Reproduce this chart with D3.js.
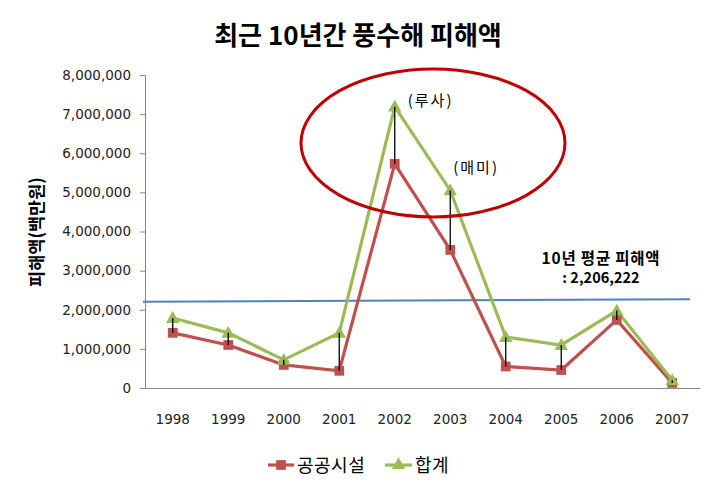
<!DOCTYPE html>
<html><head><meta charset="utf-8">
<script src="https://cdn.jsdelivr.net/npm/d3@7"></script>
<style>body{margin:0;background:#fff}svg{display:block}</style>
</head><body>
<svg id="c" width="715" height="489"></svg>
<script>
const years = ["1998","1999","2000","2001","2002","2003","2004","2005","2006","2007"];
const publicFacilities = [1410000,1100000,590000,440000,5730000,3530000,550000,460000,1740000,130000];
const totals = [1790000,1410000,720000,1410000,7190000,5050000,1300000,1100000,1980000,200000];
const yTicks = [0,1000000,2000000,3000000,4000000,5000000,6000000,7000000,8000000];
const average = 2206222;
const seriesNames = ["공공시설","합계"];
const titleText = "최근 10년간 풍수해 피해액";
const yLabel = "피해액(백만원)";
const notes = [{year:"2002", text:"(루사)"},{year:"2003", text:"(매미)"}];

const svg = d3.select("#c");
const KR = "'Noto Sans CJK KR','Noto Sans',sans-serif";
const NUM = "'DejaVu Sans',sans-serif";
const m = {l:145, r:700, t:75, b:388};
const x = d3.scaleBand().domain(years).range([m.l, m.r]);
const y = d3.scaleLinear().domain([0,8000000]).range([m.b, m.t]);
const cx = d => x(d) + x.bandwidth()/2;
const RED="#C0504D", GREEN="#9BBB59", BLUE="#4F81BD";

// title
svg.append("text").attr("x",358).attr("y",45).attr("text-anchor","middle")
  .style("font-family",KR).style("font-weight","bold").style("font-size","26px").text(titleText);

// y axis
const ya = svg.append("g").attr("transform",`translate(${m.l},0)`)
  .call(d3.axisLeft(y).tickValues(yTicks).tickFormat(d3.format(",")).tickSize(5).tickSizeOuter(0));
ya.select(".domain").attr("stroke","#868686");
ya.selectAll(".tick line").attr("stroke","#868686");
ya.selectAll(".tick text").attr("x",-14).style("font-family",NUM)
  .style("font-size","13.5px").attr("fill","#222");

// x axis
const xa = svg.append("g").attr("transform",`translate(0,${m.b})`)
  .call(d3.axisBottom(x).tickSize(0).tickSizeOuter(0));
xa.select(".domain").attr("stroke","#868686");
xa.selectAll(".tick text").attr("dy","2.45em").style("font-family",NUM)
  .style("font-size","13.5px").attr("fill","#222");

// y label
svg.append("text").attr("transform","translate(43,232) rotate(-90)").attr("text-anchor","middle")
  .style("font-family",KR).style("font-weight","bold").style("font-size","17.5px").text(yLabel);

// average line
svg.append("line").attr("x1",m.l-2).attr("x2",690).attr("y1",y(average)).attr("y2",y(average)-2.5)
  .attr("stroke",BLUE).attr("stroke-width",2);

const line = d3.line().x((d,i)=>cx(years[i])).y(d=>y(d));
svg.append("path").datum(publicFacilities).attr("d",line).attr("fill","none").attr("stroke",RED).attr("stroke-width",3.2);
svg.append("path").datum(totals).attr("d",line).attr("fill","none").attr("stroke",GREEN).attr("stroke-width",3.2);

const sq = d3.symbol().type(d3.symbolSquare).size(95);
const tri = d3.symbol().type(d3.symbolTriangle).size(80);
svg.append("g").selectAll("path").data(publicFacilities).join("path")
  .attr("transform",(d,i)=>`translate(${cx(years[i])},${y(d)})`).attr("d",sq).attr("fill",RED);
svg.append("g").selectAll("path").data(totals).join("path")
  .attr("transform",(d,i)=>`translate(${cx(years[i])},${y(d)+1})`).attr("d",tri).attr("fill",GREEN);

// drop lines (high-low)
svg.append("g").selectAll("line").data(years).join("line")
  .attr("x1",d=>cx(d)).attr("x2",d=>cx(d))
  .attr("y1",(d,i)=>y(totals[i])).attr("y2",(d,i)=>y(publicFacilities[i]))
  .attr("stroke","#000").attr("stroke-width",1.3);

// ellipse
svg.append("ellipse").attr("cx",433).attr("cy",143).attr("rx",132).attr("ry",74)
  .attr("fill","none").attr("stroke","#C00000").attr("stroke-width",3);

// notes
svg.append("text").attr("x",cx(notes[0].year)+13).attr("y",106).style("font-family",KR).style("font-size","15px")
  .style("letter-spacing","2px").text(notes[0].text);
svg.append("text").attr("x",cx(notes[1].year)+3).attr("y",173).style("font-family",KR).style("font-size","15px")
  .style("letter-spacing","2px").text(notes[1].text);

// average label
svg.append("text").attr("x",601).attr("y",264).attr("text-anchor","middle").style("font-family",KR)
  .style("font-weight","bold").style("font-size","15.5px").style("letter-spacing","0.8px").text("10년 평균 피해액");
svg.append("text").attr("x",601).attr("y",283).attr("text-anchor","middle").style("font-family",KR)
  .style("font-weight","bold").style("font-size","14.5px").text(": " + d3.format(",")(average));

// legend
const lg = svg.append("g");
lg.append("line").attr("x1",268).attr("x2",294).attr("y1",465).attr("y2",465).attr("stroke",RED).attr("stroke-width",3.2);
lg.append("path").attr("transform","translate(281,465)").attr("d",sq).attr("fill",RED);
lg.append("text").attr("x",297).attr("y",472).style("font-family",KR).style("font-size","18px").style("letter-spacing","0.5px").text(seriesNames[0]);
lg.append("line").attr("x1",385).attr("x2",412).attr("y1",465).attr("y2",465).attr("stroke",GREEN).attr("stroke-width",3.2);
lg.append("path").attr("transform","translate(398.5,465)").attr("d",tri).attr("fill",GREEN);
lg.append("text").attr("x",415).attr("y",472).style("font-family",KR).style("font-size","18px").style("letter-spacing","0.5px").text(seriesNames[1]);
</script>
</body></html>
